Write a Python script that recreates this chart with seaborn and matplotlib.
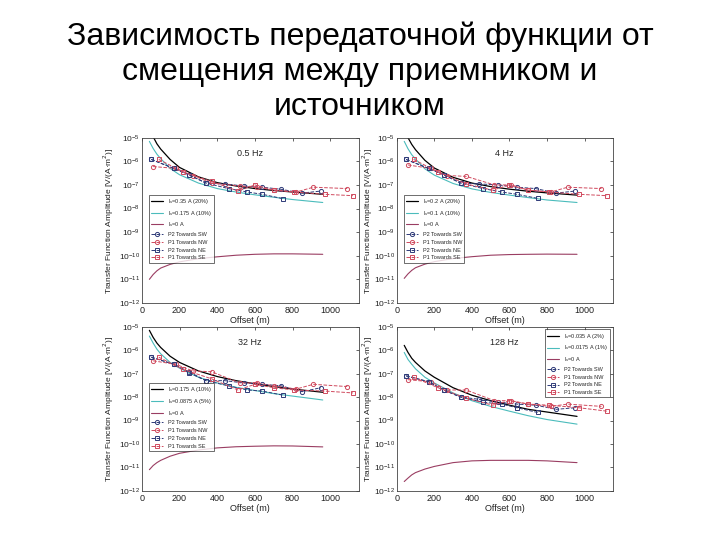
import numpy as np
import pandas as pd
import matplotlib
matplotlib.use('Agg')
import matplotlib.pyplot as plt
import seaborn as sns

sns.set_style('white')
plt.rcParams['font.family'] = ['Liberation Sans', 'DejaVu Sans']

# частоты панелей
freqs = ['0.5 Hz', '4 Hz', '32 Hz', '128 Hz']
curr_labels = [
    ['I$_s$=0.35 A (20%)', 'I$_s$=0.175 A (10%)', 'I$_s$=0 A'],
    ['I$_s$=0.2 A (20%)', 'I$_s$=0.1 A (10%)', 'I$_s$=0 A'],
    ['I$_s$=0.175 A (10%)', 'I$_s$=0.0875 A (5%)', 'I$_s$=0 A'],
    ['I$_s$=0.035 A (2%)', 'I$_s$=0.0175 A (1%)', 'I$_s$=0 A'],
]
series_labels = ['P2 Towards SW', 'P1 Towards NW', 'P2 Towards NE', 'P1 Towards SE']

# модельные кривые
curve_x = [40, 60, 80, 100, 150, 200, 300, 400, 500, 600, 700, 800, 960]
black_y = [
    [2.5e-5, 1.1e-5, 5.5e-6, 3.3e-6, 1.2e-6, 5.5e-7, 2.2e-7, 1.25e-7, 9e-8, 7e-8, 5.8e-8, 5e-8, 4e-8],
    [2.3e-5, 1.0e-5, 5.2e-6, 3.1e-6, 1.1e-6, 5.2e-7, 2.1e-7, 1.2e-7, 8.5e-8, 6.6e-8, 5.4e-8, 4.6e-8, 3.7e-8],
    [7e-6, 3.5e-6, 2e-6, 1.3e-6, 5.5e-7, 3e-7, 1.3e-7, 7.5e-8, 5e-8, 3.7e-8, 2.8e-8, 2.2e-8, 1.6e-8],
    [1.6e-6, 8e-7, 4.5e-7, 3e-7, 1.3e-7, 7e-8, 2.5e-8, 1.2e-8, 7e-9, 4.5e-9, 3e-9, 2.3e-9, 1.5e-9],
]
cyan_y = [
    [7e-6, 3.5e-6, 2e-6, 1.3e-6, 5e-7, 2.7e-7, 1.2e-7, 7e-8, 5e-8, 3.8e-8, 3e-8, 2.4e-8, 1.8e-8],
    [7e-6, 3.4e-6, 1.9e-6, 1.25e-6, 4.8e-7, 2.6e-7, 1.15e-7, 6.8e-8, 4.8e-8, 3.7e-8, 2.9e-8, 2.3e-8, 1.8e-8],
    [4e-6, 2e-6, 1.1e-6, 7e-7, 3e-7, 1.7e-7, 7e-8, 4e-8, 2.6e-8, 1.9e-8, 1.4e-8, 1.1e-8, 7.5e-9],
    [8e-7, 4e-7, 2.5e-7, 1.6e-7, 7e-8, 4e-8, 1.5e-8, 7e-9, 4e-9, 2.5e-9, 1.6e-9, 1.1e-9, 7e-10],
]
zero_y = [
    [1e-11, 1.6e-11, 2.3e-11, 3e-11, 4.3e-11, 5.5e-11, 7.5e-11, 9e-11, 1.05e-10, 1.15e-10, 1.2e-10, 1.2e-10, 1.15e-10],
    [1.1e-11, 1.7e-11, 2.4e-11, 3.1e-11, 4.4e-11, 5.6e-11, 7.6e-11, 9.1e-11, 1.05e-10, 1.12e-10, 1.15e-10, 1.17e-10, 1.15e-10],
    [8e-12, 1.2e-11, 1.6e-11, 2e-11, 3e-11, 4e-11, 5.5e-11, 6.8e-11, 7.6e-11, 8e-11, 8.3e-11, 8.2e-11, 7.5e-11],
    [2.5e-12, 3.5e-12, 4.8e-12, 6e-12, 8.5e-12, 1.1e-11, 1.6e-11, 1.9e-11, 2e-11, 2e-11, 2e-11, 1.9e-11, 1.6e-11],
]

# измерения
sw_x = [50, 170, 250, 340, 440, 540, 640, 740, 850, 950]
sw_y = [
    [1.2e-6, 5e-7, 2.7e-7, 1.2e-7, 1.1e-7, 9e-8, 8e-8, 6.5e-8, 4.5e-8, 5.5e-8],
    [1.2e-6, 5e-7, 2.7e-7, 1.2e-7, 1.1e-7, 1e-7, 8e-8, 7e-8, 4.5e-8, 5.5e-8],
    [5e-7, 2.5e-7, 1.2e-7, 5e-8, 5e-8, 4e-8, 3.5e-8, 3e-8, 1.7e-8, 2.5e-8],
    [8e-8, 4.5e-8, 2e-8, 1e-8, 8e-9, 6e-9, 5e-9, 4.5e-9, 3e-9, 3.5e-9],
]
nw_x = [60, 180, 270, 370, 520, 610, 700, 820, 910, 1090]
nw_y = [
    [6e-7, 5e-7, 2.5e-7, 1.2e-7, 9e-8, 8e-8, 6e-8, 5e-8, 8e-8, 7e-8],
    [7e-7, 5e-7, 2.5e-7, 2.3e-7, 1e-7, 1e-7, 6e-8, 5e-8, 8e-8, 7e-8],
    [3.5e-7, 2.5e-7, 1.3e-7, 1.2e-7, 4e-8, 4e-8, 3e-8, 2.2e-8, 3.5e-8, 2.8e-8],
    [5.5e-8, 4.5e-8, 2e-8, 2e-8, 7e-9, 7e-9, 5e-9, 4e-9, 5e-9, 4e-9],
]
ne_x = [50, 170, 250, 340, 460, 560, 640, 750]
ne_y = [
    [1.2e-6, 5e-7, 2.7e-7, 1.2e-7, 7e-8, 5e-8, 4e-8, 2.6e-8],
    [1.2e-6, 5e-7, 2.7e-7, 1.2e-7, 7e-8, 5e-8, 4e-8, 2.7e-8],
    [5e-7, 2.5e-7, 1.1e-7, 5e-8, 3e-8, 2e-8, 1.8e-8, 1.2e-8],
    [8e-8, 4.5e-8, 2e-8, 1e-8, 6e-9, 5e-9, 3.5e-9, 2.2e-9],
]
se_x = [90, 220, 370, 510, 600, 700, 810, 970, 1120]
se_y = [
    [1.2e-6, 3.5e-7, 1.4e-7, 5.5e-8, 1e-7, 6e-8, 5e-8, 4e-8, 3.5e-8],
    [1.2e-6, 3.5e-7, 1.1e-7, 6e-8, 1e-7, 6e-8, 5e-8, 4e-8, 3.5e-8],
    [5e-7, 1.5e-7, 6e-8, 2e-8, 3.5e-8, 2.5e-8, 2e-8, 1.8e-8, 1.5e-8],
    [7e-8, 2.5e-8, 9e-9, 4.5e-9, 7e-9, 5e-9, 4.5e-9, 3.5e-9, 2.5e-9],
]

fig = plt.figure(figsize=(7.2, 5.4), dpi=100)
fig.text(0.5, 0.961, 'Зависимость передаточной функции от\nсмещения между приемником и\nисточником',
         ha='center', va='top', fontsize=23, linespacing=1.22, color='black')

positions = [
    [0.197, 0.439, 0.301, 0.306],
    [0.551, 0.439, 0.300, 0.306],
    [0.197, 0.091, 0.301, 0.304],
    [0.551, 0.091, 0.300, 0.304],
]
label_x = [-0.118, -0.102, -0.118, -0.102]

blue = '#2e3a78'
red = '#d04a5e'

for i in range(4):
    ax = fig.add_axes(positions[i])
    sns.lineplot(x=curve_x, y=black_y[i], ax=ax, color='black', lw=0.9, label=curr_labels[i][0])
    sns.lineplot(x=curve_x, y=cyan_y[i], ax=ax, color='#4bbcbc', lw=0.8, label=curr_labels[i][1])
    sns.lineplot(x=curve_x, y=zero_y[i], ax=ax, color='#9a3d62', lw=0.8, label=curr_labels[i][2])
    specs = [(sw_x, sw_y[i], blue, 'o'), (nw_x, nw_y[i], red, 'o'),
             (ne_x, ne_y[i], blue, 's'), (se_x, se_y[i], red, 's')]
    for (xs, ys, c, m), lab in zip(specs, series_labels):
        sns.lineplot(x=xs, y=ys, ax=ax, color=c, lw=0.7, ls='--', marker=m, markersize=3,
                     markerfacecolor='none', markeredgecolor=c, markeredgewidth=0.7, label=lab)
    ax.set_yscale('log')
    ax.set_xlim(0, 1150)
    ax.set_ylim(1e-12, 1e-5)
    ax.set_xticks([0, 200, 400, 600, 800, 1000])
    ax.set_yticks([10.0 ** k for k in range(-12, -4)])
    ax.minorticks_off()
    ax.tick_params(direction='in', labelsize=6.5, length=2, width=0.5, top=True, right=True, pad=2,
                   labelcolor='#222222')
    ax.tick_params(axis='y', labelsize=6, pad=1.5)
    for s in ax.spines.values():
        s.set_linewidth(0.6)
        s.set_color('#444444')
    ax.set_xlabel('Offset (m)', fontsize=6.5, labelpad=1, color='#222222')
    ax.set_ylabel('Transfer Function Amplitude [V/(A·m$^2$)]', fontsize=6, color='#222222')
    ax.yaxis.set_label_coords(label_x[i], 0.5)
    ax.text(0.5, 0.93, freqs[i], transform=ax.transAxes, ha='center', va='top', fontsize=6.5)
    if i == 3:
        leg = ax.legend(loc='upper right', fontsize=4, frameon=True, fancybox=False,
                        borderpad=0.4, handlelength=2.2, labelspacing=0.5)
    else:
        leg = ax.legend(loc='center left', bbox_to_anchor=(0.02, 0.45), fontsize=4, frameon=True,
                        fancybox=False, borderpad=0.4, handlelength=2.2, labelspacing=0.5)
    leg.get_frame().set_edgecolor('black')
    leg.get_frame().set_linewidth(0.5)

fig.savefig('out.png', dpi=100)
